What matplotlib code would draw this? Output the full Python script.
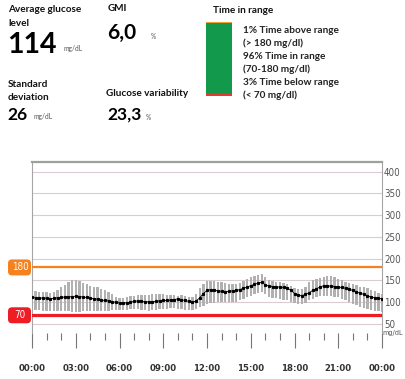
import numpy as np
import matplotlib
matplotlib.use('Agg')
import matplotlib.pyplot as plt
from matplotlib.patches import FancyBboxPatch
from matplotlib.ticker import MultipleLocator

# ── DATA ──────────────────────────────────────────────────────────────────────
# glucose profile sampled every 15 minutes, 00:00 .. 24:00 (mg/dL)
hours = np.arange(97) * 0.25

median = [111, 110, 109, 110, 109, 108, 109, 110, 111, 112, 112, 113,
          114, 113, 112, 111, 109, 108, 107, 105, 104, 103, 101, 100,
          98, 98, 99, 100, 102, 103, 102, 101, 101, 101, 102, 103,
          104, 104, 105, 106, 108, 106, 104, 102, 100, 103, 110, 120,
          127, 129, 128, 126, 125, 124, 125, 126, 127, 129, 132, 135,
          138, 141, 144, 146, 140, 137, 136, 135, 135, 134, 132, 128,
          120, 117, 115, 118, 122, 127, 131, 135, 138, 138, 137, 136,
          135, 134, 132, 130, 127, 124, 121, 118, 115, 112, 110, 109,
          108]

high = [127, 125, 124, 123, 123, 122, 124, 128, 134, 140, 146, 150,
        150, 148, 144, 141, 138, 136, 134, 130, 127, 124, 118, 113,
        109, 110, 112, 114, 115, 116, 116, 117, 117, 118, 118, 118,
        118, 117, 116, 116, 115, 116, 114, 113, 111, 118, 132, 142,
        148, 149, 148, 147, 146, 144, 143, 142, 142, 145, 149, 153,
        158, 161, 163, 165, 158, 152, 148, 147, 146, 145, 143, 138,
        132, 130, 131, 136, 146, 150, 153, 156, 158, 160, 161, 158,
        154, 150, 146, 144, 142, 139, 136, 134, 132, 129, 126, 122,
        119]

low = [85, 83, 82, 81, 81, 80, 80, 80, 81, 80, 79, 78,
       78, 78, 79, 80, 81, 81, 80, 80, 81, 81, 82, 82,
       82, 83, 83, 84, 85, 84, 83, 82, 81, 82, 83, 84,
       85, 85, 86, 86, 85, 84, 83, 82, 82, 84, 88, 92,
       96, 98, 99, 100, 100, 101, 101, 101, 101, 104, 108, 112,
       115, 118, 121, 123, 118, 113, 110, 109, 108, 106, 104, 101,
       98, 97, 97, 99, 104, 108, 112, 114, 115, 115, 114, 113,
       111, 108, 104, 100, 96, 93, 90, 87, 85, 82, 80, 79,
       78]

tir_values = [3, 96, 1]          # below, in range, above (%)
tir_colors = ['#e63a2e', '#13994b', '#f2a031']
tir_labels = ['1% Time above range', '(> 180 mg/dl)',
              '96% Time in range', '(70-180 mg/dl)',
              '3% Time below range', '(< 70 mg/dl)']

LOW_LIMIT, HIGH_LIMIT = 70, 180
x_labels = ['00:00', '03:00', '06:00', '09:00', '12:00',
            '15:00', '18:00', '21:00', '00:00']
y_ticks = [50, 100, 150, 200, 250, 300, 350, 400]

# ── FIGURE ────────────────────────────────────────────────────────────────────
W, H = 405, 379
fig = plt.figure(figsize=(W / 100, H / 100), dpi=100)

HEAD = ['Lato', 'DejaVu Sans']
NARROW = dict(family=['Liberation Sans Narrow', 'DejaVu Sans'], fontstretch='condensed')


def ptext(x, y, s, **kw):
    # position in pixels from the top-left corner, baseline aligned
    kw.setdefault('va', 'baseline')
    kw.setdefault('family', HEAD)
    fig.text(x / W, 1 - y / H, s, **kw)


# ── HEADER STATS ──────────────────────────────────────────────────────────────
bold = dict(fontsize=7.2, fontweight='bold', color='#111111')
ptext(8, 12.5, 'Average glucose', **bold)
ptext(8, 26, 'level', **bold)
ptext(7, 53, '114', fontsize=20.5, fontweight='bold', color='black')
ptext(63, 51, 'mg/dL', fontsize=4.8, color='#555555')

ptext(108, 11, 'GMI', **bold)
ptext(107, 38.5, '6,0', fontsize=15, fontweight='bold', color='black')
ptext(151, 39, '%', fontsize=4.8, color='#555555')

ptext(8, 87, 'Standard', **bold)
ptext(8, 100, 'deviation', **bold)
ptext(7, 119.5, '26', fontsize=12.5, fontweight='bold', color='black')
ptext(33, 119, 'mg/dL', fontsize=4.8, color='#555555')

ptext(106, 96.5, 'Glucose variability', **bold)
ptext(107, 120, '23,3', fontsize=12.5, fontweight='bold', color='black')
ptext(146, 120, '%', fontsize=4.8, color='#555555')

ptext(213, 13, 'Time in range', **bold)
for i, lab in enumerate(tir_labels):
    ptext(243, 33 + i * 13, lab, fontsize=7.2, fontweight='bold', color='#222222')

# time-in-range stacked bar
tax = fig.add_axes([206 / W, 1 - 96 / H, 26 / W, 74 / H])
bottom = 0
for v, c in zip(tir_values, tir_colors):
    tax.bar(0, v, bottom=bottom, width=1, color=c)
    bottom += v
tax.set_xlim(-0.5, 0.5)
tax.set_ylim(0, 100)
tax.axis('off')

# ── DAILY PROFILE ─────────────────────────────────────────────────────────────
ax = fig.add_axes([32 / W, 1 - 333.3 / H, 350 / W, 171 / H])
ax.set_xlim(0, 24)
ax.set_ylim(28.6, 421.6)

for y in y_ticks:
    ax.axhline(y, color='#dccbd5', lw=0.8, zorder=1)

ax.bar(hours, np.array(high) - np.array(low), bottom=low, width=0.16,
       color='#b1b1b1', zorder=2)
ax.plot(hours, median, color='black', lw=0.6, marker='s', ms=1.3, zorder=3)

ax.axhline(HIGH_LIMIT, color='#f5821f', lw=1.6, zorder=4)
ax.axhline(LOW_LIMIT, color='#ee1c25', lw=2.3, zorder=4)

# spines
for side in ['left', 'right']:
    ax.spines[side].set_color('#a5a5a5')
    ax.spines[side].set_linewidth(0.8)
ax.spines['top'].set_color('#9aa39a')
ax.spines['top'].set_linewidth(1.6)
ax.spines['bottom'].set_visible(False)

# x axis: hourly ticks, long ones every 3 h
ax.xaxis.set_minor_locator(MultipleLocator(1))
ax.set_xticks(np.arange(0, 25, 3))
ax.set_xticklabels(x_labels, fontsize=6.8, fontweight='bold', color='#333333', **NARROW)
ax.tick_params(axis='x', which='major', length=11, width=0.8, color='#777777', pad=11)
ax.tick_params(axis='x', which='minor', length=5, width=0.8, color='#777777')

# y axis on the right
ax.yaxis.tick_right()
ax.set_yticks(y_ticks)
ax.set_yticklabels([str(v) for v in y_ticks], fontsize=7, color='#555555', **NARROW)
ax.tick_params(axis='y', length=0, pad=1.5)
ptext(382, 335.5, 'mg/dL', fontsize=5.2, color='#555555', **NARROW)

# threshold badges on the left
fig.canvas.draw()
for val, col in [(HIGH_LIMIT, '#f5821f'), (LOW_LIMIT, '#ee1c25')]:
    ypix = ax.transData.transform((0, val))[1]
    badge = FancyBboxPatch((8, ypix - 8), 23, 16,
                           boxstyle='round,pad=0,rounding_size=4',
                           fc=col, ec='none', transform=None)
    fig.add_artist(badge)
    fig.text(20 / W, ypix / H, str(val), ha='center', va='center',
             fontsize=7, color='white', **NARROW)

fig.savefig('out.png', dpi=100)
